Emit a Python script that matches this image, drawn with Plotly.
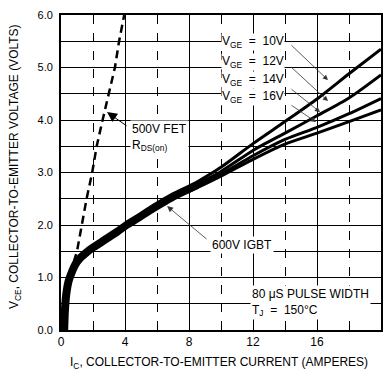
import plotly.graph_objects as go

# ---- data ----
ic_band = [0.2, 0.22, 0.25, 0.3, 0.36, 0.45, 0.55, 0.7, 0.9, 1.2, 1.6, 2.0, 2.5, 3.0,
           3.5, 4.1, 4.8, 5.5, 6.2, 7.0, 7.8, 8.5]
vce_band = [0.0, 0.2, 0.4, 0.6, 0.75, 0.9, 1.0, 1.12, 1.25, 1.37, 1.48, 1.57, 1.67, 1.77,
            1.87, 2.0, 2.13, 2.27, 2.4, 2.54, 2.66, 2.76]

ic_vge = [7.0, 8, 10, 12, 14, 16, 18, 20]
vce_10v = [2.56, 2.73, 3.1, 3.55, 3.97, 4.4, 4.88, 5.35]
vce_12v = [2.55, 2.70, 3.02, 3.42, 3.75, 4.08, 4.42, 4.86]
vce_14v = [2.53, 2.67, 2.97, 3.32, 3.63, 3.86, 4.12, 4.41]
vce_16v = [2.52, 2.64, 2.93, 3.25, 3.54, 3.75, 3.97, 4.19]

ic_fet = [0.8, 1.0, 1.3, 1.6, 1.95, 2.23, 2.6, 3.0, 3.37, 3.63, 3.95]
vce_fet = [1.3, 1.5, 2.0, 2.5, 3.0, 3.5, 4.0, 4.5, 5.0, 5.5, 6.0]

x_ticks = [0, 4, 8, 12, 16, 20]
x_tick_labels = ["0", "4", "8", "12", "16", "20"]
y_ticks = [0, 1, 2, 3, 4, 5, 6]
y_tick_labels = ["0.0", "1.0", "2.0", "3.0", "4.0", "5.0", "6.0"]
vge_labels = ["10V", "12V", "14V", "16V"]

FONT = "Liberation Sans, Arial, sans-serif"

fig = go.Figure()
for v in [vce_10v, vce_12v, vce_14v, vce_16v]:
    fig.add_trace(go.Scatter(x=ic_vge, y=v, mode="lines",
                             line=dict(color="black", width=3, shape="spline", smoothing=0.7),
                             hoverinfo="skip"))
fig.add_trace(go.Scatter(x=ic_band, y=vce_band, mode="lines",
                         line=dict(color="black", width=8, shape="spline", smoothing=1.0),
                         hoverinfo="skip"))
fig.add_trace(go.Scatter(x=ic_fet, y=vce_fet, mode="lines",
                         line=dict(color="black", width=2.5, dash="8px,5px"),
                         hoverinfo="skip"))

ann = []
# V_GE labels and leader arrows
label_y = [5.49, 5.10, 4.76, 4.44]
tails = [(14.31, 5.45), (14.31, 5.03), (14.31, 4.61), (14.31, 4.30)]
heads = [(16.69, 4.76), (16.69, 4.36), (16.19, 4.15), (15.94, 3.96)]
for lab, ly, t, h in zip(vge_labels, label_y, tails, heads):
    ann.append(dict(x=h[0], y=h[1], ax=t[0], ay=t[1], xref="x", yref="y",
                    axref="x", ayref="y", text="", showarrow=True,
                    arrowhead=2, arrowsize=1.3, arrowwidth=0.8, arrowcolor="#333"))
    ann.append(dict(x=14.0, y=ly, xref="x", yref="y", xanchor="right", yanchor="middle",
                    text="V<sub>GE</sub>  =  " + lab, showarrow=False,
                    bgcolor="white", borderpad=0, font=dict(size=12)))

# 500V FET
ann.append(dict(x=2.875, y=4.15, ax=4.19, ay=3.87, xref="x", yref="y", axref="x", ayref="y",
                text="", showarrow=True, arrowhead=2, arrowsize=2, arrowwidth=1, arrowcolor="black"))
ann.append(dict(x=4.31, y=3.66, xref="x", yref="y", xanchor="left", yanchor="middle",
                text="500V FET<br>R<sub>DS(on)</sub>", align="left", showarrow=False,
                bgcolor="white", borderpad=1, font=dict(size=12)))
# 600V IGBT
ann.append(dict(x=6.63, y=2.36, ax=9.19, ay=1.71, xref="x", yref="y", axref="x", ayref="y",
                text="", showarrow=True, arrowhead=2, arrowsize=1.5, arrowwidth=0.8, arrowcolor="#333"))
ann.append(dict(x=9.31, y=1.62, xref="x", yref="y", xanchor="left", yanchor="middle",
                text="600V IGBT", showarrow=False, bgcolor="white", borderpad=1,
                font=dict(size=12)))
# pulse width box
ann.append(dict(x=11.81, y=0.53, xref="x", yref="y", xanchor="left", yanchor="middle",
                text="80 \u03bcS PULSE WIDTH<br>T<sub>J</sub>  =  150\u00b0C", align="left",
                showarrow=False, bgcolor="white", borderpad=1, font=dict(size=12)))
# axis titles
ann.append(dict(x=(15 - 61) / 320, y=(330 - 167) / 315, xref="paper", yref="paper",
                text="V<sub>CE</sub>, COLLECTOR-TO-EMITTER VOLTAGE (VOLTS)", textangle=-90,
                showarrow=False, xanchor="center", yanchor="middle", font=dict(size=12)))
ann.append(dict(x=(219 - 61) / 320, y=(330 - 363) / 315, xref="paper", yref="paper",
                text="I<sub>C</sub>, COLLECTOR-TO-EMITTER CURRENT (AMPERES)",
                showarrow=False, xanchor="center", yanchor="middle", font=dict(size=12)))

fig.update_layout(
    width=384, height=377,
    margin=dict(l=61, r=3, t=15, b=47, autoexpand=False),
    plot_bgcolor="white", paper_bgcolor="white", showlegend=False,
    font=dict(family=FONT, size=11, color="black"),
    annotations=ann,
)
fig.update_xaxes(range=[0, 20], tickmode="array", tickvals=x_ticks, ticktext=x_tick_labels,
                 showgrid=True, gridcolor="black", gridwidth=1.3,
                 minor=dict(tick0=0, dtick=2, showgrid=True, gridcolor="black",
                            gridwidth=0.8, griddash="dash"),
                 showline=True, mirror=True, linecolor="black", linewidth=1.5,
                 zeroline=False, ticks="", automargin=False, tickfont=dict(size=12))
fig.update_yaxes(range=[0, 6], tickmode="array", tickvals=y_ticks, ticktext=y_tick_labels,
                 showgrid=True, gridcolor="black", gridwidth=1.3,
                 minor=dict(tick0=0, dtick=0.5, showgrid=True, gridcolor="black",
                            gridwidth=0.9),
                 showline=True, mirror=True, linecolor="black", linewidth=1.8,
                 zeroline=False, ticks="", automargin=False, ticklabelstandoff=4,
                 tickfont=dict(size=11))

fig.write_html("out.html")
